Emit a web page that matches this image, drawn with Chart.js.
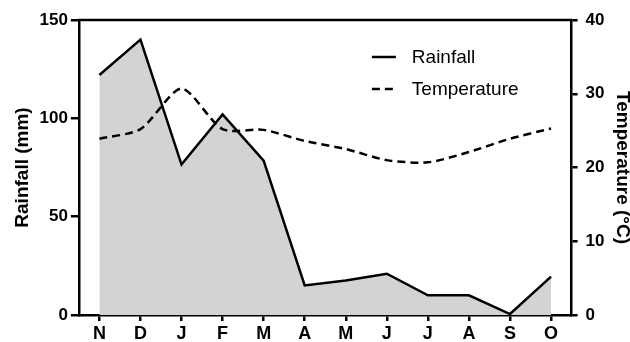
<!DOCTYPE html>
<html>
<head>
<meta charset="utf-8">
<script src="https://cdn.jsdelivr.net/npm/chart.js@4"></script>
<style>
  html, body { margin: 0; padding: 0; background: #fff; }
  #wrap { width: 630px; height: 342px; }
</style>
</head>
<body>
<div id="wrap"><canvas id="canvas" width="630" height="342"></canvas></div>
<script>
const canvas = document.getElementById('canvas');
const ctx = canvas.getContext('2d');

const months = ['N', 'D', 'J', 'F', 'M', 'A', 'M', 'J', 'J', 'A', 'S', 'O'];
const rainfall = [122, 140, 76.5, 102, 78.5, 15, 17.5, 21, 10, 10, 0.5, 19.5];
const temperature = [23.9, 25.2, 30.7, 25.2, 25.1, 23.6, 22.5, 21.0, 20.7, 22.1, 23.9, 25.3];
const rainTicks = [0, 50, 100, 150];
const tempTicks = [0, 10, 20, 30, 40];

const FONT = 'Arial, "Liberation Sans", Helvetica, sans-serif';

// top frame line of the plot box
const frame = {
  id: 'frame',
  afterDraw(chart) {
    const a = chart.chartArea;
    const c = chart.ctx;
    c.save();
    c.strokeStyle = '#000';
    c.lineWidth = 2.5;
    c.beginPath();
    c.moveTo(a.left - 1, a.top);
    c.lineTo(a.right + 1, a.top);
    c.stroke();
    c.restore();
  },
};

// legend drawn inside the plot area, top right
const innerLegend = {
  id: 'innerLegend',
  afterDraw(chart) {
    const a = chart.chartArea;
    const c = chart.ctx;
    c.save();
    c.font = '19px ' + FONT;
    c.textBaseline = 'middle';
    c.fillStyle = '#000';
    chart.data.datasets.forEach((ds, i) => {
      const y = a.top + 37 + i * 32;
      const x = a.left + 293;
      c.strokeStyle = ds.borderColor;
      c.lineWidth = 2.5;
      c.setLineDash(ds.borderDash || []);
      c.beginPath();
      c.moveTo(x, y);
      c.lineTo(x + 24, y);
      c.stroke();
      c.setLineDash([]);
      c.fillText(ds.label, x + 40, y + 1);
    });
    c.restore();
  },
};

const myChart = new Chart(ctx, {
  type: 'line',
  data: {
    labels: months,
    datasets: [
      {
        label: 'Rainfall',
        data: rainfall,
        yAxisID: 'y',
        borderColor: '#000',
        borderWidth: 2.5,
        backgroundColor: '#d3d3d3',
        fill: 'origin',
        tension: 0,
        pointRadius: 0,
        order: 2,
      },
      {
        label: 'Temperature',
        data: temperature,
        yAxisID: 'y1',
        borderColor: '#000',
        borderWidth: 2.5,
        borderDash: [8, 5],
        fill: false,
        tension: 0.25,
        pointRadius: 0,
        order: 1,
      },
    ],
  },
  options: {
    responsive: false,
    animation: false,
    layout: { padding: { left: 13.5, right: -1.5, top: 20, bottom: -5 } },
    plugins: {
      legend: { display: false },
      tooltip: { enabled: false },
    },
    scales: {
      x: {
        offset: true,
        grid: {
          offset: false,
          drawOnChartArea: false,
          drawTicks: true,
          tickLength: 6,
          color: '#000',
          lineWidth: 2.5,
        },
        border: { color: '#000', width: 2.5 },
        ticks: {
          color: '#000',
          padding: 4,
          maxRotation: 0,
          autoSkip: false,
          font: { family: FONT, size: 18, weight: 'bold', lineHeight: 1 },
        },
      },
      y: {
        position: 'left',
        min: rainTicks[0],
        max: rainTicks[rainTicks.length - 1],
        afterBuildTicks: (axis) => { axis.ticks = rainTicks.map((v) => ({ value: v })); },
        grid: {
          drawOnChartArea: false,
          drawTicks: true,
          tickLength: 8,
          color: '#000',
          lineWidth: 2.5,
        },
        border: { color: '#000', width: 2.5 },
        ticks: {
          color: '#000',
          padding: 3,
          font: { family: FONT, size: 17, weight: 'bold' },
        },
        title: {
          display: true,
          text: 'Rainfall (mm)',
          color: '#000',
          padding: { top: 0, bottom: 4 },
          font: { family: FONT, size: 19, weight: 'bold', lineHeight: 1 },
        },
      },
      y1: {
        position: 'right',
        min: tempTicks[0],
        max: tempTicks[tempTicks.length - 1],
        afterBuildTicks: (axis) => { axis.ticks = tempTicks.map((v) => ({ value: v })); },
        grid: {
          drawOnChartArea: false,
          drawTicks: true,
          tickLength: 6,
          color: '#000',
          lineWidth: 2.5,
        },
        border: { color: '#000', width: 2.5 },
        ticks: {
          color: '#000',
          padding: 8,
          font: { family: FONT, size: 17, weight: 'bold' },
        },
        title: {
          display: true,
          text: 'Temperature (\u00B0C)',
          color: '#000',
          padding: { top: 0, bottom: 0 },
          font: { family: FONT, size: 19, weight: 'bold', lineHeight: 1 },
        },
      },
    },
  },
  plugins: [frame, innerLegend],
});
</script>
</body>
</html>
